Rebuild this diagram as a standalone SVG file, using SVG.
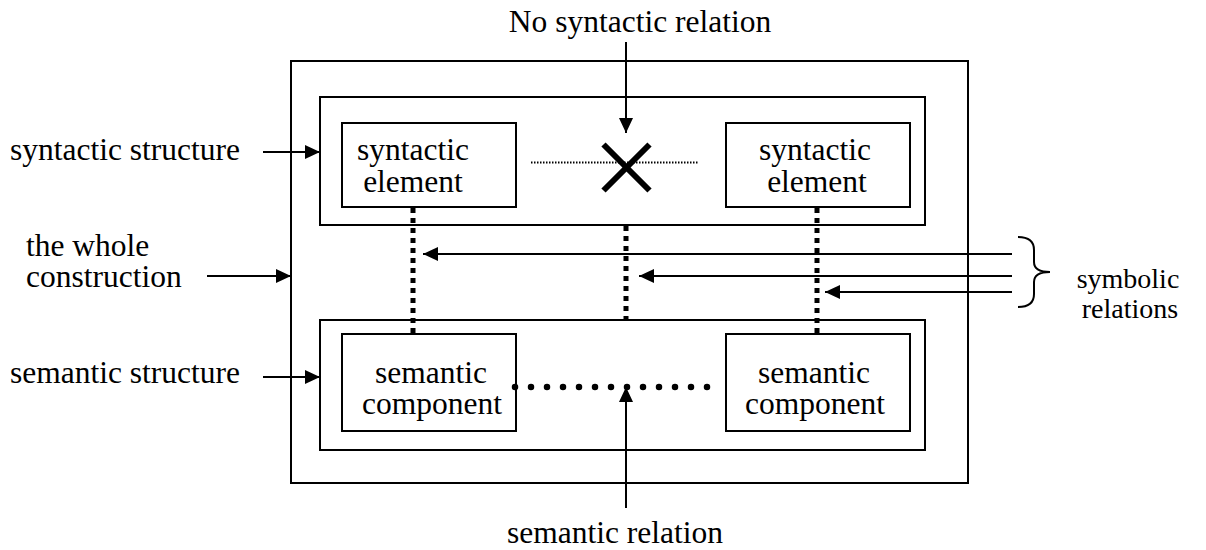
<svg xmlns="http://www.w3.org/2000/svg" width="1206" height="550" viewBox="0 0 1206 550">
  <style>
    text { font-family: 'Liberation Serif', Tinos, 'Times New Roman', 'DejaVu Serif', serif; font-size: 31.5px; fill: #000; }
    .small { font-size: 28px; }
    .box { fill: #fff; stroke: #000; stroke-width: 2; }
    .line { stroke: #000; stroke-width: 2; fill: none; }
    .link { stroke: #000; stroke-width: 5; stroke-dasharray: 5 5; fill: none; }
  </style>
  <defs>
    <marker id="arrow" markerUnits="userSpaceOnUse" markerWidth="16" markerHeight="16" viewBox="0 0 16 16" refX="15" refY="8" orient="auto">
      <path d="M0,1 L15,8 L0,15 Z" fill="#000"/>
    </marker>
  </defs>
  <rect width="1206" height="550" fill="#fff"/>

  <!-- the whole construction -->
  <g id="construction">
    <rect class="box" x="291" y="61" width="677" height="422"/>
  </g>

  <!-- syntactic structure -->
  <g id="syntactic-structure">
    <rect class="box" x="320" y="97" width="605" height="128"/>
  </g>

  <!-- semantic structure -->
  <g id="semantic-structure">
    <rect class="box" x="320" y="320" width="605" height="130"/>
  </g>

  <g id="syntactic-element-left">
    <rect class="box" x="342" y="123" width="174" height="84"/>
    <text x="413" y="160" text-anchor="middle">syntactic</text>
    <text x="413" y="192" text-anchor="middle">element</text>
  </g>

  <g id="syntactic-element-right">
    <rect class="box" x="726" y="123" width="184" height="84"/>
    <text x="815" y="160" text-anchor="middle">syntactic</text>
    <text x="817" y="192" text-anchor="middle">element</text>
  </g>

  <g id="semantic-component-left">
    <rect class="box" x="342" y="334" width="174" height="97"/>
    <text x="431" y="383" text-anchor="middle">semantic</text>
    <text x="432" y="414" text-anchor="middle">component</text>
  </g>

  <g id="semantic-component-right">
    <rect class="box" x="726" y="334" width="184" height="97"/>
    <text x="814" y="383" text-anchor="middle">semantic</text>
    <text x="815" y="414" text-anchor="middle">component</text>
  </g>

  <g id="connectors">
    <!-- absent syntactic relation -->
    <line x1="531" y1="162.5" x2="698" y2="162.5" stroke="#000" stroke-width="2" stroke-dasharray="1.5 1.5"/>
    <line x1="603.5" y1="144.5" x2="649.5" y2="190.5" stroke="#000" stroke-width="6"/>
    <line x1="649.5" y1="144.5" x2="603.5" y2="190.5" stroke="#000" stroke-width="6"/>

    <!-- symbolic links -->
    <line class="link" x1="413" y1="208" x2="413" y2="334"/>
    <line class="link" x1="626" y1="226" x2="626" y2="320"/>
    <line class="link" x1="817" y1="208" x2="817" y2="334"/>

    <!-- semantic relation -->
    <line x1="515" y1="387" x2="723" y2="387" stroke="#000" stroke-width="6.5" stroke-linecap="round" stroke-dasharray="0 16"/>

    <!-- label arrows -->
    <line class="line" x1="626" y1="42" x2="626" y2="133" marker-end="url(#arrow)"/>
    <line class="line" x1="263" y1="152" x2="320" y2="152" marker-end="url(#arrow)"/>
    <line class="line" x1="207" y1="276" x2="291" y2="276" marker-end="url(#arrow)"/>
    <line class="line" x1="263" y1="377" x2="320" y2="377" marker-end="url(#arrow)"/>
    <line class="line" x1="626" y1="508" x2="626" y2="387" marker-end="url(#arrow)"/>

    <line class="line" x1="1012" y1="254" x2="423" y2="254" marker-end="url(#arrow)"/>
    <line class="line" x1="1012" y1="276" x2="639" y2="276" marker-end="url(#arrow)"/>
    <line class="line" x1="1012" y1="292" x2="825" y2="292" marker-end="url(#arrow)"/>

    <!-- brace -->
    <path class="line" d="M1018,237 Q1034,237 1034,250 L1034,262 Q1034,272 1050,272 Q1034,272 1034,282 L1034,294 Q1034,307 1018,307"/>
  </g>

  <g id="labels">
    <text x="640" y="32" text-anchor="middle">No syntactic relation</text>
    <text x="10" y="160">syntactic structure</text>
    <text x="26" y="256">the whole</text>
    <text x="26" y="287">construction</text>
    <text x="10" y="383">semantic structure</text>
    <text x="615" y="543" text-anchor="middle">semantic relation</text>
    <text class="small" x="1128" y="288" text-anchor="middle">symbolic</text>
    <text class="small" x="1130" y="318" text-anchor="middle">relations</text>
  </g>
</svg>
